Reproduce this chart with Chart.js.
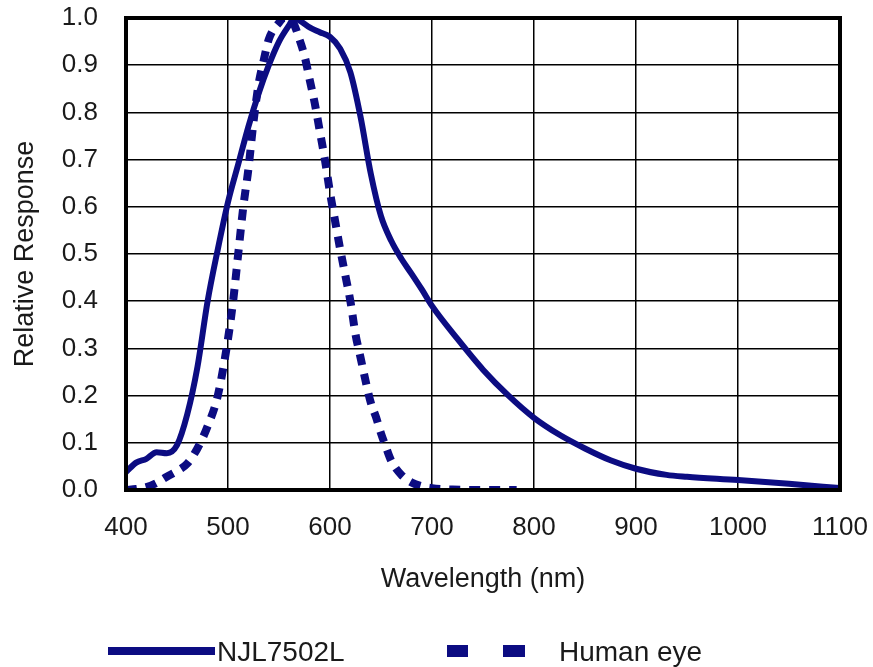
<!DOCTYPE html>
<html>
<head>
<meta charset="utf-8">
<script src="https://cdn.jsdelivr.net/npm/chart.js@4.4.1/dist/chart.umd.min.js"></script>
<style>
  html, body { margin: 0; padding: 0; background: #fff; }
  #wrap { width: 873px; height: 667px; }
</style>
</head>
<body>
<div id="wrap"><canvas id="chart" width="873" height="667"></canvas></div>
<script>
// Données
const sensorWavelengths = [400, 410, 420, 430, 440, 450, 460, 470, 480, 490, 500, 510, 520, 530, 540, 550, 560, 565, 570, 580, 590, 600, 610, 620, 630, 640, 650, 660, 670, 680, 690, 700, 725, 750, 775, 800, 825, 850, 875, 900, 930, 950, 1000, 1050, 1100];
const sensorResponse = [0.038, 0.058, 0.066, 0.080, 0.078, 0.095, 0.16, 0.26, 0.40, 0.51, 0.61, 0.69, 0.77, 0.84, 0.90, 0.95, 0.985, 1.0, 0.995, 0.98, 0.97, 0.96, 0.935, 0.885, 0.79, 0.67, 0.58, 0.528, 0.49, 0.458, 0.425, 0.39, 0.32, 0.255, 0.20, 0.153, 0.117, 0.088, 0.063, 0.045, 0.032, 0.028, 0.021, 0.013, 0.004];

const eyeWavelengths = [400, 410, 420, 430, 440, 450, 460, 470, 480, 490, 500, 505, 510, 515, 520, 525, 530, 535, 540, 550, 555, 560, 565, 570, 575, 580, 585, 590, 595, 600, 605, 610, 615, 620, 625, 630, 635, 640, 645, 650, 655, 660, 670, 680, 690, 700, 720, 750, 783];
const eyeResponse = [0.0, 0.002, 0.006, 0.015, 0.028, 0.04, 0.056, 0.088, 0.135, 0.20, 0.32, 0.40, 0.50, 0.60, 0.68, 0.78, 0.86, 0.91, 0.955, 0.99, 1.0, 1.0, 0.985, 0.955, 0.92, 0.87, 0.82, 0.76, 0.70, 0.63, 0.57, 0.51, 0.455, 0.40, 0.33, 0.28, 0.23, 0.185, 0.155, 0.12, 0.09, 0.062, 0.032, 0.016, 0.008, 0.004, 0.001, 0.0, 0.0];

const seriesNames = ['NJL7502L', 'Human eye'];
const xTicks = [400, 500, 600, 700, 800, 900, 1000, 1100];
const yTicks = [0, 0.1, 0.2, 0.3, 0.4, 0.5, 0.6, 0.7, 0.8, 0.9, 1.0];

const navy = '#0c0c82';
const textColor = '#1a1a1a';
const fontName = '"Liberation Sans", Arial, sans-serif';

function toPoints(xs, ys) {
  return xs.map((x, i) => ({ x: x, y: ys[i] }));
}

// Cadre épais autour de la zone du graphique
const framePlugin = {
  id: 'frame',
  afterDatasetsDraw(chart) {
    const { ctx, chartArea: a } = chart;
    ctx.save();
    ctx.strokeStyle = '#000';
    ctx.lineWidth = 4;
    ctx.strokeRect(a.left, a.top, a.right - a.left, a.bottom - a.top);
    ctx.restore();
  }
};

// Légende dessinée en bas
const legendPlugin = {
  id: 'bottomLegend',
  afterDraw(chart) {
    const ctx = chart.ctx;
    const y = 651;
    ctx.save();
    ctx.fillStyle = navy;
    ctx.fillRect(108, y - 4, 107, 8);
    ctx.fillRect(447, y - 6, 21, 12);
    ctx.fillRect(503, y - 6, 22, 12);
    ctx.fillStyle = textColor;
    ctx.font = '28px ' + fontName;
    ctx.textBaseline = 'middle';
    ctx.fillText(seriesNames[0], 217, y + 2);
    ctx.fillText(seriesNames[1], 559, y + 2);
    ctx.restore();
  }
};

new Chart(document.getElementById('chart'), {
  type: 'line',
  data: {
    datasets: [
      {
        label: seriesNames[0],
        data: toPoints(sensorWavelengths, sensorResponse),
        borderColor: navy,
        borderWidth: 6,
        pointRadius: 0,
        cubicInterpolationMode: 'monotone',
        fill: false
      },
      {
        label: seriesNames[1],
        data: toPoints(eyeWavelengths, eyeResponse),
        borderColor: navy,
        borderWidth: 8,
        borderDash: [11, 9],
        borderCapStyle: 'butt',
        pointRadius: 0,
        cubicInterpolationMode: 'monotone',
        fill: false
      }
    ]
  },
  options: {
    responsive: false,
    animation: false,
    layout: { padding: { left: 0, top: 18, right: 33, bottom: 67 } },
    plugins: {
      legend: { display: false },
      tooltip: { enabled: false }
    },
    scales: {
      x: {
        type: 'linear',
        min: 400,
        max: 1100,
        afterBuildTicks: (scale) => { scale.ticks = xTicks.map(v => ({ value: v })); },
        afterFit: (scale) => { scale.height = 110; },
        ticks: {
          color: textColor,
          font: { family: fontName, size: 26 },
          padding: 0,
          callback: (v) => String(v)
        },
        // les graduations invisibles servent d'espace sous l'axe
        grid: { color: '#000', lineWidth: 1.5, drawTicks: true, tickLength: 22, tickColor: 'rgba(0,0,0,0)' },
        border: { display: false },
        title: {
          display: true,
          text: 'Wavelength (nm)',
          color: textColor,
          font: { family: fontName, size: 27 },
          padding: { top: 0, bottom: 4 }
        }
      },
      y: {
        min: 0,
        max: 1,
        afterBuildTicks: (scale) => { scale.ticks = yTicks.map(v => ({ value: v })); },
        afterFit: (scale) => { scale.width = 126; },
        ticks: {
          color: textColor,
          font: { family: fontName, size: 26 },
          padding: 0,
          callback: (v) => Number(v).toFixed(1)
        },
        grid: { color: '#000', lineWidth: 1.5, drawTicks: true, tickLength: 28, tickColor: 'rgba(0,0,0,0)' },
        border: { display: false },
        title: {
          display: true,
          text: 'Relative Response',
          color: textColor,
          font: { family: fontName, size: 27 },
          padding: { top: 9, bottom: 0 }
        }
      }
    }
  },
  plugins: [framePlugin, legendPlugin]
});
</script>
</body>
</html>
